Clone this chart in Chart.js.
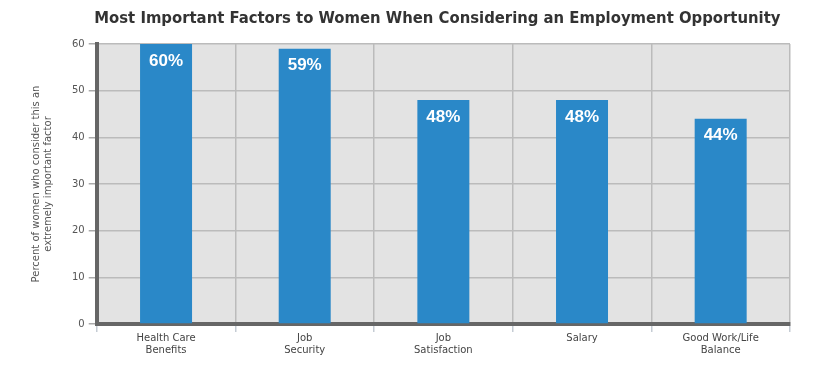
<!DOCTYPE html>
<html>
<head>
<meta charset="utf-8">
<script src="https://cdn.jsdelivr.net/npm/chart.js@4.4.1/dist/chart.umd.min.js"></script>
<style>
  html, body { margin: 0; padding: 0; background: #fff; }
  #wrap { width: 815px; height: 365px; position: relative; }
</style>
</head>
<body>
<div id="wrap"><canvas id="chart-area"></canvas></div>
<script>
  'use strict';

  var chartTitle = 'Most Important Factors to Women When Considering an Employment Opportunity';
  var categories = [
    ['Health Care', 'Benefits'],
    ['Job', 'Security'],
    ['Job', 'Satisfaction'],
    ['Salary'],
    ['Good Work/Life', 'Balance']
  ];
  var percentValues = [60, 59, 48, 48, 44];
  var yTicks = [0, 10, 20, 30, 40, 50, 60];

  var barBlue = '#2a88c8';
  var plotGray = '#e3e3e3';

  // fill plot area with gray before anything else
  var plotBackground = {
    id: 'plotBackground',
    beforeDraw: function (chart) {
      var a = chart.chartArea;
      var ctx = chart.ctx;
      ctx.save();
      ctx.fillStyle = plotGray;
      ctx.fillRect(a.left, a.top, a.right - a.left, a.bottom - a.top);
      ctx.restore();
    }
  };

  // title centred over the plot area, not the whole canvas
  var plotTitle = {
    id: 'plotTitle',
    afterDraw: function (chart) {
      var a = chart.chartArea;
      var ctx = chart.ctx;
      ctx.save();
      ctx.fillStyle = '#333333';
      ctx.font = 'bold 16.5px "DejaVu Sans Condensed", "DejaVu Sans", sans-serif';
      ctx.textAlign = 'center';
      ctx.textBaseline = 'middle';
      ctx.fillText(chartTitle, (a.left + a.right) / 2 - 6, 19);
      ctx.restore();
    }
  };

  // white percent labels inside the top of each bar
  var barLabels = {
    id: 'barLabels',
    afterDatasetsDraw: function (chart) {
      var ctx = chart.ctx;
      var meta = chart.getDatasetMeta(0);
      ctx.save();
      ctx.fillStyle = '#ffffff';
      ctx.font = 'bold 17px "Liberation Sans", Arial, sans-serif';
      ctx.textAlign = 'center';
      ctx.textBaseline = 'middle';
      meta.data.forEach(function (bar, i) {
        ctx.fillText(percentValues[i] + '%', bar.x, bar.y + 17);
      });
      ctx.restore();
    }
  };

  var ctx = document.getElementById('chart-area').getContext('2d');
  window.factorsChart = new Chart(ctx, {
    type: 'bar',
    data: {
      labels: categories,
      datasets: [{
        data: percentValues,
        backgroundColor: barBlue,
        borderWidth: 0,
        categoryPercentage: 1.0,
        barPercentage: 0.375
      }]
    },
    options: {
      responsive: true,
      maintainAspectRatio: false,
      animation: false,
      layout: {
        padding: { top: 44, right: 25, bottom: 9, left: 30 }
      },
      plugins: {
        legend: { display: false },
        tooltip: { enabled: false },
        title: { display: false }
      },
      scales: {
        x: {
          grid: {
            offset: true,
            color: '#bbbbbb',
            lineWidth: 1.5,
            tickColor: '#c5ccd4',
            tickLength: 8,
            drawOnChartArea: true
          },
          border: { color: '#666666', width: 4 },
          ticks: {
            color: '#444444',
            font: { family: '"DejaVu Sans", sans-serif', size: 10 },
            maxRotation: 0,
            padding: 0
          }
        },
        y: {
          min: 0,
          max: 60,
          afterBuildTicks: function (scale) {
            scale.ticks = yTicks.map(function (v) { return { value: v }; });
          },
          grid: {
            color: '#bbbbbb',
            lineWidth: 1.5,
            tickColor: '#aaaaaa',
            tickLength: 8
          },
          border: { color: '#666666', width: 4 },
          ticks: {
            color: '#555555',
            font: { family: '"DejaVu Sans", sans-serif', size: 10 },
            padding: 4
          },
          title: {
            display: true,
            text: ['Percent of women who consider this an', 'extremely important factor'],
            color: '#555555',
            font: { family: '"DejaVu Sans", sans-serif', size: 10 },
            padding: { top: 0, bottom: 14 }
          }
        }
      }
    },
    plugins: [plotBackground, barLabels, plotTitle]
  });
</script>
</body>
</html>
